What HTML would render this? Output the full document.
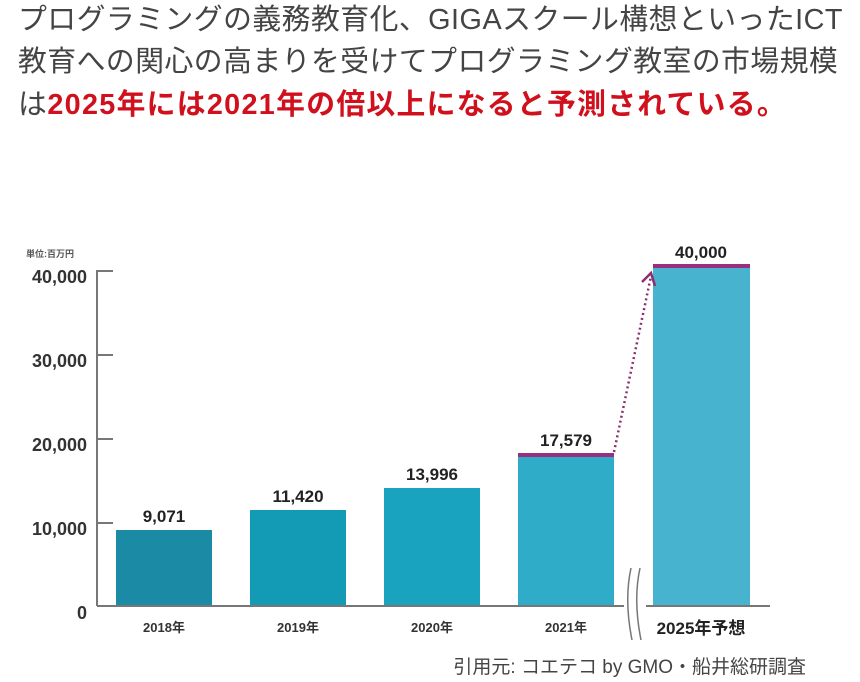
<!DOCTYPE html>
<html><head><meta charset="utf-8"><style>
body{margin:0;width:860px;height:682px;background:#fff;overflow:hidden;font-family:"Liberation Sans","Noto Sans CJK JP",sans-serif}
.t{position:absolute;left:18px;font-size:28.8px;color:#444;white-space:nowrap;line-height:34px;letter-spacing:0.5px}
.r{color:#d0101c;font-weight:bold;letter-spacing:1.3px}
</style></head><body>
<div class="t" style="top:3px">プログラミングの義務教育化、GIGAスクール構想といったICT</div>
<div class="t" style="top:45px">教育への関心の高まりを受けてプログラミング教室の市場規模</div>
<div class="t" style="top:88px">は<span class="r">2025年には2021年の倍以上になると予測されている。</span></div>
<svg width="860" height="682" style="position:absolute;left:0;top:0" font-family="Liberation Sans,Noto Sans CJK JP,sans-serif">
<text x="26" y="257" font-size="9" fill="#555" font-weight="bold">単位:百万円</text>
<g font-size="18" font-weight="bold" fill="#333" text-anchor="end">
<text x="87" y="283">40,000</text><text x="87" y="367">30,000</text><text x="87" y="451">20,000</text><text x="87" y="535">10,000</text><text x="87" y="619">0</text></g>
<line x1="97" y1="270" x2="97" y2="606" stroke="#777" stroke-width="2"/>
<g stroke="#777" stroke-width="2"><line x1="97" y1="271" x2="113" y2="271"/><line x1="97" y1="355" x2="113" y2="355"/><line x1="97" y1="439" x2="113" y2="439"/><line x1="97" y1="523" x2="113" y2="523"/></g>
<rect x="116" y="530" width="96" height="76" fill="#1a8aa5"/>
<rect x="250" y="510" width="96" height="96" fill="#139bb5"/>
<rect x="384" y="488" width="96" height="118" fill="#19a3bf"/>
<rect x="518" y="455" width="96" height="151" fill="#2eacc8"/>
<rect x="653" y="267" width="97" height="339" fill="#47b3cf"/>
<line x1="518" y1="455" x2="614" y2="455" stroke="#9b2f7f" stroke-width="4"/>
<line x1="653" y1="266" x2="750" y2="266" stroke="#9b2f7f" stroke-width="4"/>
<line x1="614" y1="452" x2="651" y2="276" stroke="#8a2f70" stroke-width="2.5" stroke-dasharray="2,3"/>
<polyline points="642,282 651,273 655,286" fill="none" stroke="#8a2f70" stroke-width="2.5"/>
<line x1="97" y1="606" x2="770" y2="606" stroke="#777" stroke-width="2"/>
<rect x="624" y="570" width="22" height="80" fill="#fff"/>
<path d="M631 568 Q624 600 632 640 M640 568 Q633 600 641 640" stroke="#777" stroke-width="1.5" fill="none"/>
<g font-size="17" font-weight="bold" fill="#222" text-anchor="middle">
<text x="164" y="522">9,071</text><text x="298" y="502">11,420</text><text x="432" y="480">13,996</text><text x="566" y="446">17,579</text><text x="701" y="258">40,000</text></g>
<g font-size="13" fill="#333" text-anchor="middle" font-weight="bold">
<text x="164" y="632">2018年</text><text x="298" y="632">2019年</text><text x="432" y="632">2020年</text><text x="566" y="632">2021年</text></g>
<text x="701" y="634" font-size="17" font-weight="bold" fill="#222" text-anchor="middle">2025年予想</text>
<text x="806" y="673" font-size="19" fill="#444" text-anchor="end">引用元: コエテコ by GMO・船井総研調査</text>
</svg>
</body></html>
